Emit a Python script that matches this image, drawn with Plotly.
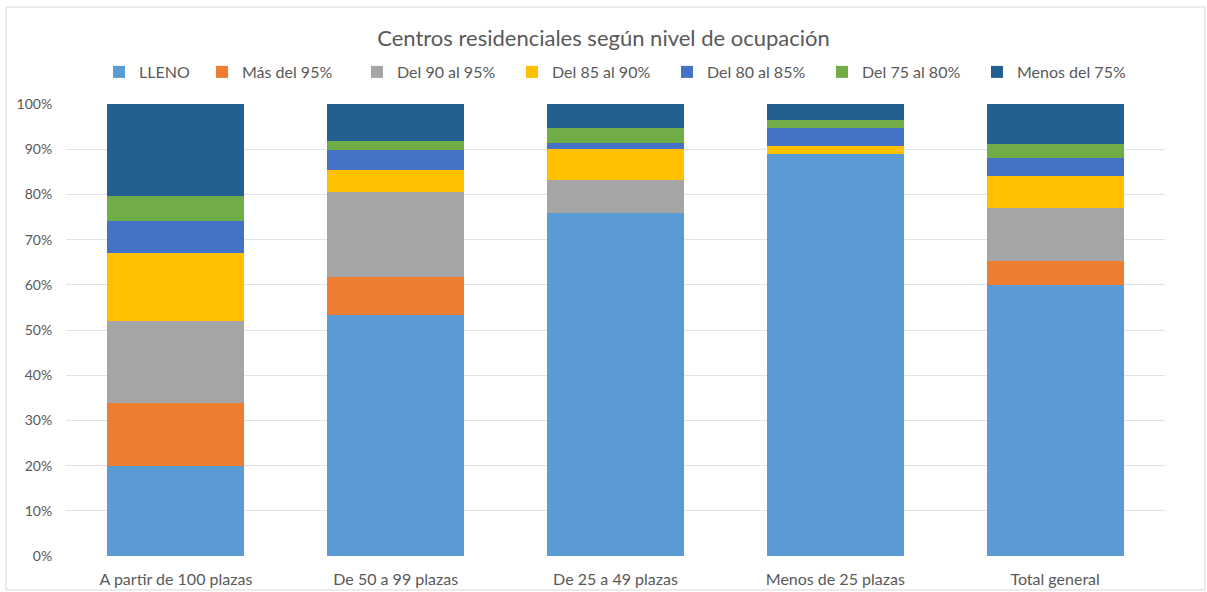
import plotly.graph_objects as go

categories = ["A partir de 100 plazas", "De 50 a 99 plazas", "De 25 a 49 plazas",
              "Menos de 25 plazas", "Total general"]

lleno     = [20.0, 53.4, 75.8, 88.9, 60.0]
mas95     = [13.9,  8.3,  0.0,  0.0,  5.3]
del90_95  = [18.0, 18.9,  7.3,  0.0, 11.6]
del85_90  = [15.2,  4.8,  6.9,  1.7,  7.2]
del80_85  = [ 7.0,  4.4,  1.3,  4.2,  3.9]
del75_80  = [ 5.5,  2.1,  3.4,  1.7,  3.1]
menos75   = [20.4,  8.1,  5.3,  3.5,  8.9]

series_names = ["LLENO", "Más del 95%", "Del 90 al 95%", "Del 85 al 90%",
                "Del 80 al 85%", "Del 75 al 80%", "Menos del 75%"]
series_values = [lleno, mas95, del90_95, del85_90, del80_85, del75_80, menos75]
colors = ["#5B9BD5", "#ED7D31", "#A5A5A5", "#FFC000", "#4472C4", "#70AD47", "#255E91"]

tick_vals = [0, 10, 20, 30, 40, 50, 60, 70, 80, 90, 100]
tick_text = ["0%", "10%", "20%", "30%", "40%", "50%", "60%", "70%", "80%", "90%", "100%"]

FONT = "Lato, 'Open Sans', sans-serif"
TXT = "#595959"

L, R, T, B = 66, 42, 104, 36
PW = 1207 - L - R
PH = 592 - T - B

fig = go.Figure()
for i, (name, vals, col) in enumerate(zip(series_names, series_values, colors)):
    fig.add_trace(go.Bar(
        x=categories, y=vals, name=name,
        marker=dict(color=col, line=dict(width=0)),
        legend="legend" if i == 0 else "legend2",
    ))

legend_font = dict(family=FONT, size=16, color=TXT)
leg_y = (592 - B - 72) / PH

fig.update_layout(
    barmode="stack",
    bargap=0.377,
    width=1207, height=592,
    paper_bgcolor="white", plot_bgcolor="white",
    margin=dict(l=L, r=R, t=T, b=B, autoexpand=False),
    font=dict(family=FONT, color=TXT, size=14),
    title=dict(text="Centros residenciales según nivel de ocupación",
               x=0.5, xanchor="center", y=1 - 38 / 592, yanchor="middle",
               font=dict(family=FONT, size=22, color=TXT)),
    legend=dict(orientation="h", x=(99 - L) / PW, xanchor="left",
                y=leg_y, yanchor="middle", traceorder="normal",
                font=legend_font, itemwidth=30, bgcolor="rgba(0,0,0,0)"),
    legend2=dict(orientation="h", x=(202 - L) / PW, xanchor="left",
                 y=leg_y, yanchor="middle", traceorder="normal",
                 font=legend_font, itemwidth=30, entrywidth=110,
                 entrywidthmode="pixels", bgcolor="rgba(0,0,0,0)"),
    showlegend=True,
)

fig.update_xaxes(showgrid=False, showline=False, zeroline=False,
                 ticks="outside", ticklen=9, tickcolor="rgba(0,0,0,0)",
                 tickfont=dict(family=FONT, size=16, color=TXT))
fig.update_yaxes(range=[0, 100], tickmode="array", tickvals=tick_vals, ticktext=tick_text,
                 showgrid=True, gridcolor="#E3E3E3", gridwidth=1,
                 zeroline=False, showline=False,
                 ticks="outside", ticklen=10, tickcolor="rgba(0,0,0,0)",
                 tickfont=dict(family=FONT, size=14, color=TXT))

# chart-area border
fig.add_shape(type="rect", xref="paper", yref="paper",
              x0=(6 - L) / PW, x1=(1205 - L) / PW,
              y0=(592 - B - 590) / PH, y1=(592 - B - 7) / PH,
              line=dict(color="#D9D9D9", width=1), fillcolor="rgba(0,0,0,0)",
              layer="below")

fig.write_html("out.html",
               config={"displayModeBar": False},
               post_script="document.body.style.margin='0';document.body.style.overflow='hidden';")
